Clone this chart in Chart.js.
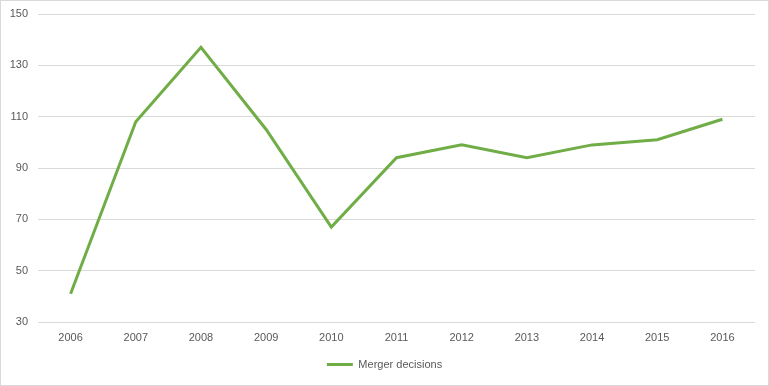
<!DOCTYPE html>
<html>
<head>
<meta charset="utf-8">
<script src="https://cdn.jsdelivr.net/npm/chart.js@4/dist/chart.umd.min.js"></script>
<style>
  html, body { margin: 0; padding: 0; background: #fff; }
  .frame {
    width: 769px; height: 386px;
    box-sizing: border-box;
    border: 1px solid #d9d9d9;
    position: relative;
  }
  .frame canvas { display: block; }
</style>
</head>
<body>
<div class="frame">
  <canvas id="chart" width="767" height="384"></canvas>
</div>
<script>
// chart data
const years = ['2006', '2007', '2008', '2009', '2010', '2011', '2012', '2013', '2014', '2015', '2016'];
const mergerDecisions = [41, 108, 137, 105, 67, 94, 99, 94, 99, 101, 109];
const yMin = 30;
const yMax = 150;
const yStep = 20;

const green = '#70ad47';
const textColor = '#595959';
const gridColor = '#d9d9d9';

const ctx = document.getElementById('chart').getContext('2d');
new Chart(ctx, {
    type: 'line',
    data: {
        labels: years,
        datasets: [{
            label: 'Merger decisions',
            data: mergerDecisions,
            borderColor: green,
            backgroundColor: green,
            borderWidth: 3,
            pointRadius: 0,
            tension: 0,
            fill: false
        }]
    },
    options: {
        responsive: false,
        animation: false,
        layout: {
            padding: { top: 13, right: 0, bottom: 5, left: 0 }
        },
        plugins: {
            tooltip: { enabled: false },
            legend: {
                position: 'bottom',
                labels: {
                    usePointStyle: true,
                    pointStyle: 'line',
                    pointStyleWidth: 26,
                    boxHeight: 11,
                    padding: 10,
                    color: textColor,
                    font: { family: 'Liberation Sans', size: 11 }
                }
            }
        },
        scales: {
            x: {
                offset: true,
                grid: { display: false, drawTicks: false },
                border: { display: false },
                ticks: {
                    color: textColor,
                    padding: 9,
                    maxRotation: 0,
                    font: { family: 'Liberation Sans', size: 11 }
                },
                afterFit: (axis) => { axis.height = 27; }
            },
            y: {
                min: yMin,
                max: yMax,
                grid: { color: gridColor, drawTicks: false },
                border: { display: false },
                ticks: {
                    stepSize: yStep,
                    color: textColor,
                    padding: 10,
                    font: { family: 'Liberation Sans', size: 11 }
                },
                afterFit: (axis) => {
                    axis.width = 37;
                    axis.paddingTop = 0;
                }
            },
            // empty right-hand axis, only reserves the margin on the right
            yRight: {
                position: 'right',
                grid: { display: false, drawTicks: false },
                border: { display: false },
                ticks: { display: false },
                afterFit: (axis) => {
                    axis.width = 13;
                    axis.paddingTop = 0;
                }
            }
        }
    }
});
</script>
</body>
</html>
